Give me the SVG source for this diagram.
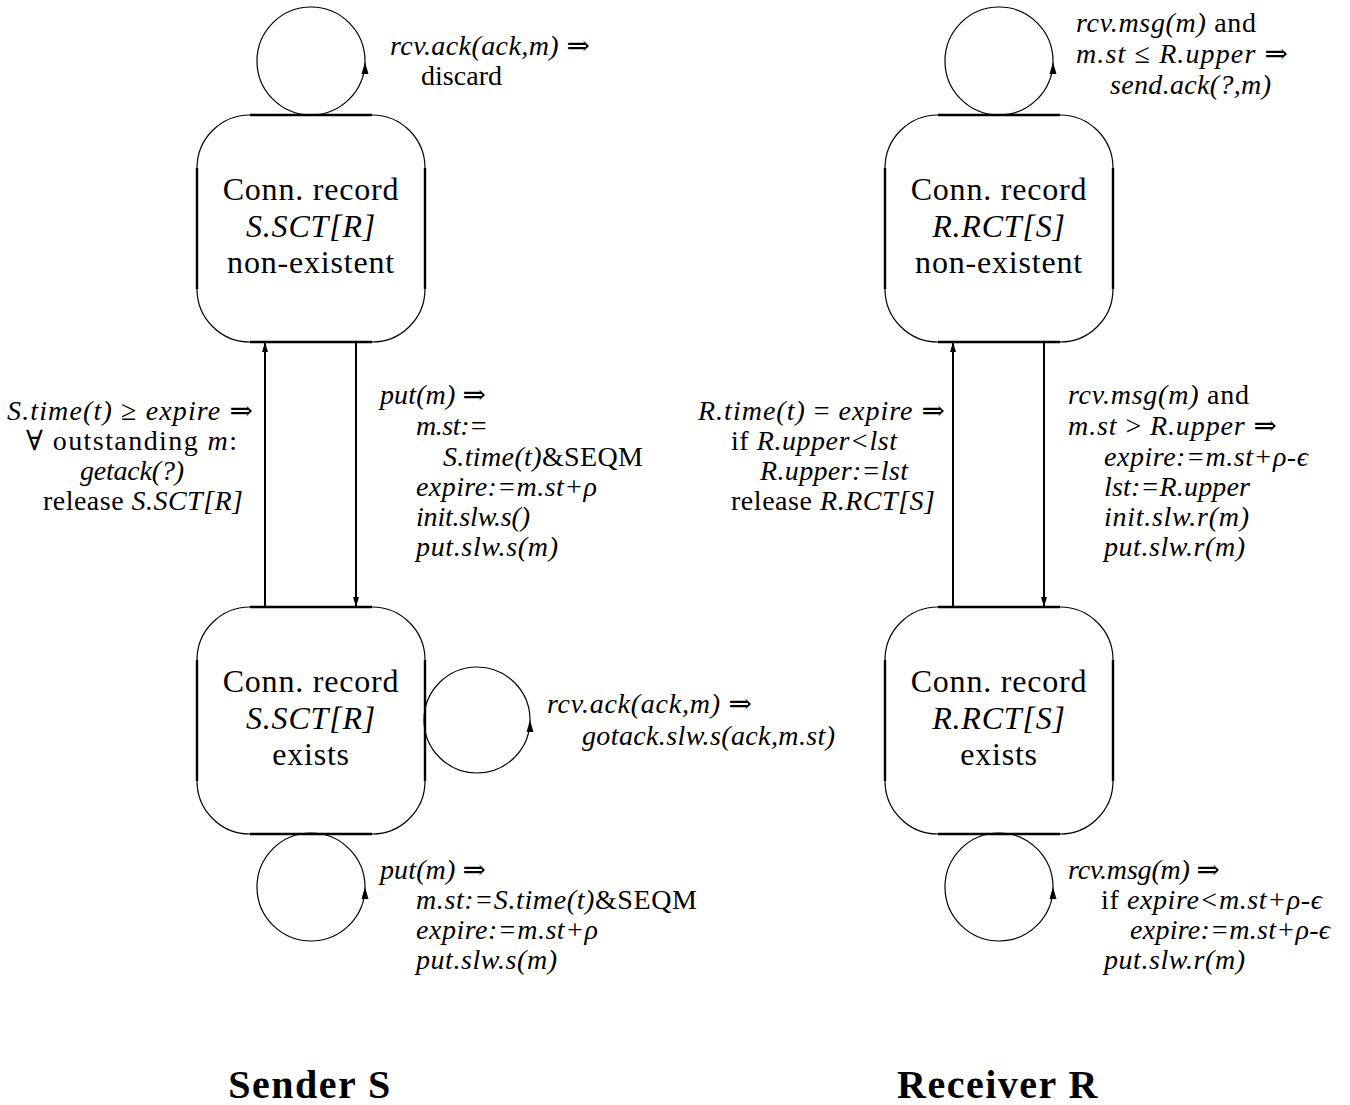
<svg xmlns="http://www.w3.org/2000/svg" xmlns:xlink="http://www.w3.org/1999/xlink" width="1350" height="1105" viewBox="0 0 1350 1105">
<style>
  .arc { fill: none; stroke: #000; stroke-width: 1.2; }
  .edge { fill: none; stroke: #000; stroke-width: 2.4; }
  .conn { fill: none; stroke: #000; stroke-width: 2; }
  .loop { fill: none; stroke: #000; stroke-width: 1.2; }
  .head { fill: #000; stroke: none; }
  .node { font-family: "Liberation Serif", "DejaVu Serif", serif; font-size: 32px; letter-spacing: 0.8px; text-anchor: middle; fill: #000; }
  .lbl { font-family: "Liberation Serif", "DejaVu Serif", serif; font-size: 28px; font-style: italic; fill: #000; }
  .rm { font-style: normal; }
  .title { font-family: "Liberation Serif", "DejaVu Serif", serif; font-size: 40px; font-weight: bold; letter-spacing: 1.5px; text-anchor: middle; fill: #000; }
</style>
<defs>
  <g id="box">
    <rect class="arc" x="0" y="0" width="228" height="227" rx="53" ry="53"/>
    <path class="edge" d="M53,0 H175 M53,227 H175 M0,53 V174 M228,53 V174"/>
  </g>
  <marker id="ah" viewBox="0 0 10 6" refX="10" refY="3" markerWidth="10" markerHeight="6" markerUnits="userSpaceOnUse" orient="auto">
    <path d="M0,0 L10,3 L0,6 z" fill="#000"/>
  </marker>
</defs>
<rect width="1350" height="1105" fill="#fff"/>

<g id="connectors">
  <line class="conn" x1="265" y1="607" x2="265" y2="342" marker-end="url(#ah)"/>
  <line class="conn" x1="356" y1="342" x2="356" y2="607" marker-end="url(#ah)"/>
  <line class="conn" x1="953" y1="607" x2="953" y2="342" marker-end="url(#ah)"/>
  <line class="conn" x1="1044" y1="342" x2="1044" y2="607" marker-end="url(#ah)"/>
  <circle class="loop" cx="311" cy="61" r="54"/>
  <polygon class="head" points="365,62 361.5,74 368.5,74"/>
  <circle class="loop" cx="477" cy="720" r="53"/>
  <polygon class="head" points="530,720 526.5,732 533.5,732"/>
  <circle class="loop" cx="311" cy="887" r="54"/>
  <polygon class="head" points="365,887 361.5,899 368.5,899"/>
  <circle class="loop" cx="999" cy="61" r="54"/>
  <polygon class="head" points="1053,62 1049.5,74 1056.5,74"/>
  <circle class="loop" cx="999" cy="887" r="54"/>
  <polygon class="head" points="1053,887 1049.5,899 1056.5,899"/>
</g>

<g id="sender-nonexistent">
  <use xlink:href="#box" x="197" y="115"/>
  <text class="node" x="311" y="200">Conn. record</text>
  <text class="node" x="311" y="237" font-style="italic">S.SCT[R]</text>
  <text class="node" x="311" y="273">non-existent</text>
</g>
<g id="sender-exists">
  <use xlink:href="#box" x="197" y="607"/>
  <text class="node" x="311" y="692">Conn. record</text>
  <text class="node" x="311" y="729" font-style="italic">S.SCT[R]</text>
  <text class="node" x="311" y="765">exists</text>
</g>
<g id="receiver-nonexistent">
  <use xlink:href="#box" x="885" y="115"/>
  <text class="node" x="999" y="200">Conn. record</text>
  <text class="node" x="999" y="237" font-style="italic">R.RCT[S]</text>
  <text class="node" x="999" y="273">non-existent</text>
</g>
<g id="receiver-exists">
  <use xlink:href="#box" x="885" y="607"/>
  <text class="node" x="999" y="692">Conn. record</text>
  <text class="node" x="999" y="729" font-style="italic">R.RCT[S]</text>
  <text class="node" x="999" y="765">exists</text>
</g>

<g id="labels">
  <!-- sender top loop -->
  <text class="lbl" x="390" y="55" textLength="200">rcv.ack(ack,m) <tspan class="rm">⇒</tspan></text>
  <text class="lbl" x="421" y="85" textLength="81"><tspan class="rm">discard</tspan></text>
  <!-- receiver top loop -->
  <text class="lbl" x="1076" y="32" textLength="180">rcv.msg(m)<tspan class="rm"> and</tspan></text>
  <text class="lbl" x="1076" y="63" textLength="212">m.st <tspan class="rm">≤</tspan> R.upper <tspan class="rm">⇒</tspan></text>
  <text class="lbl" x="1110" y="94" textLength="161">send.ack(?,m)</text>
  <!-- sender left -->
  <text class="lbl" x="7" y="420" textLength="246">S.time(t) <tspan class="rm">≥</tspan> expire <tspan class="rm">⇒</tspan></text>
  <text class="lbl" x="26" y="450" textLength="211"><tspan class="rm">∀ outstanding </tspan>m<tspan class="rm">:</tspan></text>
  <text class="lbl" x="80" y="480" textLength="104">getack(?)</text>
  <text class="lbl" x="43" y="510" textLength="200"><tspan class="rm">release </tspan>S.SCT[R]</text>
  <!-- sender right -->
  <text class="lbl" x="380" y="404" textLength="106">put(m) <tspan class="rm">⇒</tspan></text>
  <text class="lbl" x="416" y="435" textLength="72">m.st:=</text>
  <text class="lbl" x="443" y="466" textLength="200">S.time(t)<tspan class="rm">&amp;SEQM</tspan></text>
  <text class="lbl" x="416" y="496" textLength="181">expire:=m.st+ρ</text>
  <text class="lbl" x="416" y="526" textLength="114">init.slw.s()</text>
  <text class="lbl" x="416" y="556" textLength="142">put.slw.s(m)</text>
  <!-- receiver left -->
  <text class="lbl" x="698" y="420" textLength="247">R.time(t) <tspan class="rm">=</tspan> expire <tspan class="rm">⇒</tspan></text>
  <text class="lbl" x="731" y="450" textLength="166"><tspan class="rm">if </tspan>R.upper&lt;lst</text>
  <text class="lbl" x="760" y="480" textLength="148">R.upper:=lst</text>
  <text class="lbl" x="731" y="510" textLength="204"><tspan class="rm">release </tspan>R.RCT[S]</text>
  <!-- receiver right -->
  <text class="lbl" x="1068" y="404" textLength="181">rcv.msg(m)<tspan class="rm"> and</tspan></text>
  <text class="lbl" x="1068" y="435" textLength="209">m.st <tspan class="rm">&gt;</tspan> R.upper <tspan class="rm">⇒</tspan></text>
  <text class="lbl" x="1104" y="466" textLength="204">expire:=m.st+ρ-ϵ</text>
  <text class="lbl" x="1104" y="496" textLength="146">lst:=R.upper</text>
  <text class="lbl" x="1104" y="526" textLength="145">init.slw.r(m)</text>
  <text class="lbl" x="1104" y="556" textLength="141">put.slw.r(m)</text>
  <!-- sender right loop -->
  <text class="lbl" x="547" y="713" textLength="205">rcv.ack(ack,m) <tspan class="rm">⇒</tspan></text>
  <text class="lbl" x="582" y="745" textLength="253">gotack.slw.s(ack,m.st)</text>
  <!-- sender bottom loop -->
  <text class="lbl" x="380" y="879" textLength="106">put(m) <tspan class="rm">⇒</tspan></text>
  <text class="lbl" x="416" y="909" textLength="281">m.st:=S.time(t)<tspan class="rm">&amp;SEQM</tspan></text>
  <text class="lbl" x="416" y="939" textLength="182">expire:=m.st+ρ</text>
  <text class="lbl" x="416" y="969" textLength="141">put.slw.s(m)</text>
  <!-- receiver bottom loop -->
  <text class="lbl" x="1068" y="879" textLength="152">rcv.msg(m) <tspan class="rm">⇒</tspan></text>
  <text class="lbl" x="1101" y="909" textLength="221"><tspan class="rm">if </tspan>expire&lt;m.st+ρ-ϵ</text>
  <text class="lbl" x="1130" y="939" textLength="200">expire:=m.st+ρ-ϵ</text>
  <text class="lbl" x="1104" y="969" textLength="141">put.slw.r(m)</text>
</g>

<g id="titles">
  <text class="title" x="310" y="1098">Sender S</text>
  <text class="title" x="998" y="1098">Receiver R</text>
</g>
</svg>
